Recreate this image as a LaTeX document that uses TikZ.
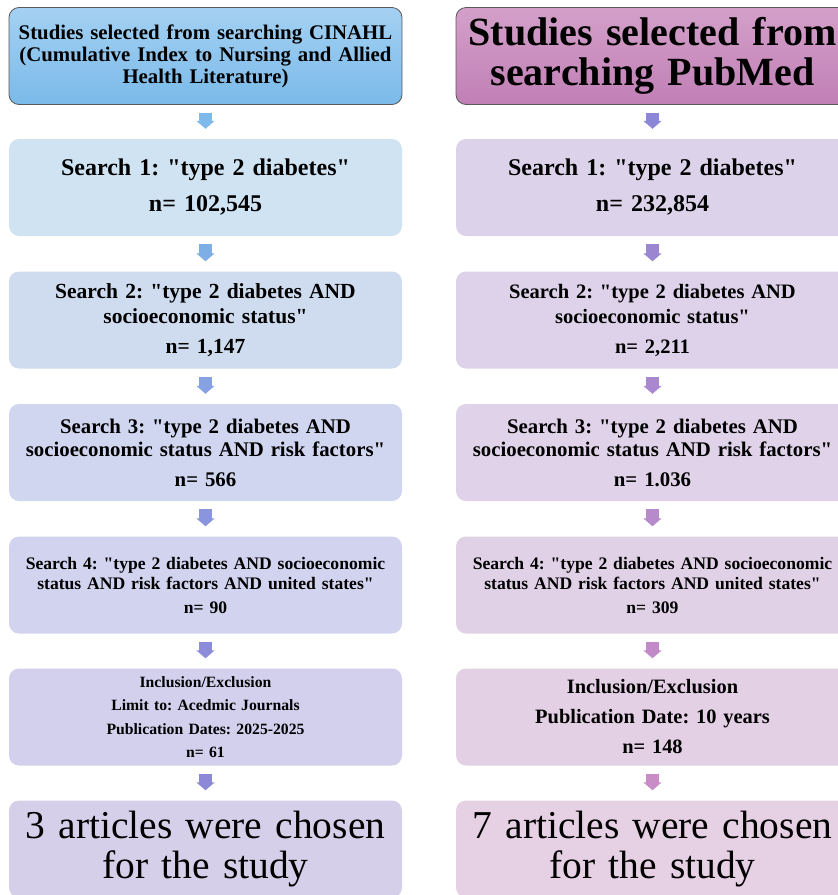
\documentclass[tikz,border=0pt]{standalone}
\usepackage{fontspec}
\setmainfont{Liberation Serif}
\usetikzlibrary{arrows.meta}
\newcommand{\fsz}[2]{\fontsize{#1}{#2}\selectfont}
\newcommand{\q}{\textquotedbl}
\frenchspacing
\begin{document}
\begin{tikzpicture}[x=1pt, y=1pt,
    box/.style={rounded corners=10pt, minimum width=393pt, minimum height=97pt,
        inner sep=0pt, align=center, text width=390pt},
    head/.style={box, draw=black!65, line width=0.8pt},
    downarrow/.style={line width=13pt, -{Triangle[length=8pt 0 0, width=18pt 0 0]},
        shorten <=8pt, shorten >=10pt}]
        \useasboundingbox (0,0) rectangle (838,-895);

        % CINAHL column
        \node[head, top color={rgb,255:red,164;green,209;blue,243}, bottom color={rgb,255:red,122;green,186;blue,233},
            font=\fsz{20.8}{22}\bfseries] (ch) at (205.5,-56)
            {Studies selected from searching CINAHL\\(Cumulative Index to Nursing and Allied\\Health Literature)};
        \node[box, fill={rgb,255:red,208;green,227;blue,242}, font=\fsz{24}{25}\bfseries] (c1) at (205.5,-187.5)
            {Search 1: \q type 2 diabetes\q\\[11pt] n= 102,545};
        \node[box, fill={rgb,255:red,207;green,220;blue,239}, font=\fsz{21.5}{25}\bfseries] (c2) at (205.5,-320)
            {Search 2: \q type 2 diabetes AND\\socioeconomic status\q\\[5pt] n= 1,147};
        \node[box, fill={rgb,255:red,208;green,214;blue,239}, font=\fsz{20.8}{23}\bfseries] (c3) at (205.5,-452.5)
            {Search 3: \q type 2 diabetes AND\\socioeconomic status AND risk factors\q\\[7pt] n= 566};
        \node[box, fill={rgb,255:red,210;green,211;blue,239}, font=\fsz{17.6}{20}\bfseries] (c4) at (205.5,-585)
            {Search 4: \q type 2 diabetes AND socioeconomic\\status AND risk factors AND united states\q\\[4pt] n= 90};
        \node[box, fill={rgb,255:red,210;green,208;blue,236}, font=\fsz{15.7}{23.5}\bfseries] (c5) at (205.5,-717)
            {Inclusion/Exclusion\\Limit to: Acedmic Journals\\Publication Dates: 2025-2025\\n= 61};
        \node[box, fill={rgb,255:red,214;green,207;blue,233}, font=\fsz{39.5}{40}] (c6) at (205.5,-849)
            {3 articles were chosen\\for the study};

        % PubMed column
        \node[head, top color={rgb,255:red,211;green,160;blue,201}, bottom color={rgb,255:red,193;green,127;blue,182},
            font=\fsz{40}{40}\bfseries] (ph) at (652.5,-56)
            {Studies selected from\\searching PubMed};
        \node[box, fill={rgb,255:red,220;green,211;blue,234}, font=\fsz{24}{25}\bfseries] (p1) at (652.5,-187.5)
            {Search 1: \q type 2 diabetes\q\\[11pt] n= 232,854};
        \node[box, fill={rgb,255:red,222;green,210;blue,234}, font=\fsz{20.5}{25}\bfseries] (p2) at (652.5,-320)
            {Search 2: \q type 2 diabetes AND\\socioeconomic status\q\\[5pt] n= 2,211};
        \node[box, fill={rgb,255:red,224;green,210;blue,232}, font=\fsz{20.8}{23}\bfseries] (p3) at (652.5,-452.5)
            {Search 3: \q type 2 diabetes AND\\socioeconomic status AND risk factors\q\\[7pt] n= 1.036};
        \node[box, fill={rgb,255:red,225;green,209;blue,231}, font=\fsz{17.6}{20}\bfseries] (p4) at (652.5,-585)
            {Search 4: \q type 2 diabetes AND socioeconomic\\status AND risk factors AND united states\q\\[4pt] n= 309};
        \node[box, fill={rgb,255:red,228;green,208;blue,228}, font=\fsz{20.4}{30}\bfseries] (p5) at (652.5,-717)
            {Inclusion/Exclusion\\Publication Date: 10 years\\n= 148};
        \node[box, fill={rgb,255:red,230;green,208;blue,227}, font=\fsz{39.5}{40}] (p6) at (652.5,-849)
            {7 articles were chosen\\for the study};

        % Arrows CINAHL
        \draw[downarrow, color={rgb,255:red,125;green,185;blue,234}] (ch) -- (c1);
        \draw[downarrow, color={rgb,255:red,126;green,174;blue,230}] (c1) -- (c2);
        \draw[downarrow, color={rgb,255:red,134;green,162;blue,226}] (c2) -- (c3);
        \draw[downarrow, color={rgb,255:red,138;green,149;blue,222}] (c3) -- (c4);
        \draw[downarrow, color={rgb,255:red,140;green,140;blue,218}] (c4) -- (c5);
        \draw[downarrow, color={rgb,255:red,141;green,136;blue,216}] (c5) -- (c6);

        % Arrows PubMed
        \draw[downarrow, color={rgb,255:red,140;green,134;blue,214}] (ph) -- (p1);
        \draw[downarrow, color={rgb,255:red,155;green,134;blue,210}] (p1) -- (p2);
        \draw[downarrow, color={rgb,255:red,169;green,136;blue,207}] (p2) -- (p3);
        \draw[downarrow, color={rgb,255:red,182;green,138;blue,203}] (p3) -- (p4);
        \draw[downarrow, color={rgb,255:red,194;green,138;blue,200}] (p4) -- (p5);
        \draw[downarrow, color={rgb,255:red,201;green,140;blue,198}] (p5) -- (p6);
    \end{tikzpicture}
\end{document}
